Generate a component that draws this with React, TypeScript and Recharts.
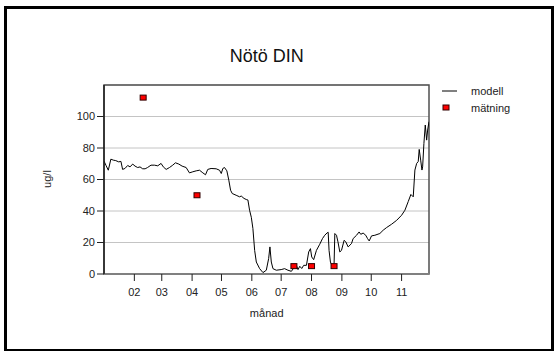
import React from 'react';
import { ComposedChart, Line, Scatter, XAxis, YAxis, CartesianGrid, Legend, ReferenceArea } from 'recharts';

// day of year (0 = 1 Jan) for the modelled series
const modelDays = [
  0, 2, 4.4, 7, 9.5, 12, 15, 17.3, 19, 21.4, 24.2, 26.6, 29.3, 31.7, 34.4, 36.8, 39.5, 42, 44.5, 48,
  51.5, 54.9, 58.3, 60.6, 63.5, 66.9, 70.2, 73, 76.4, 79.8, 83.9, 87.3, 90.7, 94.2, 97.6, 101, 103.7,
  106, 109.4, 114.6, 118, 119.8, 121.4, 123.1, 125.5, 127.5, 129.3, 131, 135, 138.5, 140.2, 143, 145.3,
  147, 148.7, 150.5, 152.1, 153.9, 155.6, 159, 162.4, 165.8, 168.2, 169.5, 170.9, 172.6, 176, 181, 184.5,
  187.9, 191.4, 194, 196.5, 198.2, 200, 202, 204, 206.8, 209.1, 210.9, 212.2, 214.2, 217, 220.4, 223.2,
  225.5, 227.9, 229, 229.9, 231.3, 233.4, 235, 235.8, 237.5, 239, 240.9, 242.6, 245.3, 247, 249.4, 252.8,
  254.5, 258, 260.6, 262.3, 264.7, 267.4, 269.2, 270.9, 273.3, 276.7, 281.8, 285.2, 288.7, 293.8, 299,
  304, 307.4, 310.8, 313.5, 315.9, 317.6, 319.4, 321, 322, 323.5, 324.8, 325.5, 326.8, 328.2, 329.6,
  330.6, 332,
];
const modelValues = [
  71.7, 69, 65.9, 72.9, 72.3, 72, 71.2, 71.5, 66.4, 67, 68.9, 68, 69.8, 68.5, 67.6, 68, 66.8, 66.8, 67.6, 69.1,
  69.1, 68.7, 70.2, 68, 66.4, 67.6, 69.1, 70.6, 69.8, 68.5, 67.6, 64.2, 64.9, 65.5, 65.9, 64.2, 63,
  66.4, 67, 66.8, 65.9, 63.8, 67, 67.6, 65.5, 59.6, 53.2, 51.1, 50, 49, 49.5, 48, 47.3,
  47, 40.5, 36, 28.9, 15, 7.6, 3.4, 0.9, 2.4, 9.8, 17.2, 7.6, 3.4, 2.4, 2.8, 3.4,
  2.4, 1.7, 4, 5.5, 2.8, 4.9, 3.5, 5.5, 5.5, 14, 16.1, 10.8, 9.1, 15, 18.9, 22.5,
  24.6, 26.1, 26.5, 15, 7.6, 4.5, 5.3, 25.7, 24.6, 20.4, 14, 15, 21.4, 20.4, 17.2, 19.3,
  22.5, 24.6, 26.7, 25.2, 26, 24.6, 22.5, 21, 24.2, 24.6, 25.7, 27.8, 29.5, 31.6, 34.1,
  37.3, 40.5, 46, 50.5, 49, 66, 70.2, 71.4, 79.1, 72.3, 66, 68, 82.9, 94.6, 85,
  91.4, 96.7,
];

// sampled measurements
const sampleDays = [40, 95, 194, 212, 235];
const sampleValues = [112, 50, 5, 5, 5];

const monthTicks = [31, 59, 90, 120, 151, 181, 212, 243, 273, 304];
const monthLabels = ['02', '03', '04', '05', '06', '07', '08', '09', '10', '11'];
const yTicks = [0, 20, 40, 60, 80, 100];
const seriesNames = ['modell', 'mätning'];

const X_MAX = 332;
const Y_MAX = 120;
const FONT = '"Liberation Sans", Arial, sans-serif';

const modelData = modelDays.map((day, i) => ({ day, modell: modelValues[i] }));
const sampleData = sampleDays.map((day, i) => ({ day, matning: sampleValues[i] }));

const SampleMark = (props: any) => (
  <rect
    x={props.cx - 3}
    y={props.cy - 2.5}
    width={6}
    height={5}
    fill="#ff0000"
    stroke="#300000"
    strokeWidth={1}
  />
);

const LegendBox = () => (
  <svg width={110} height={32} style={{ display: 'block', fontFamily: FONT }}>
    <line x1={4} y1={7} x2={19} y2={7} stroke="#000" strokeWidth={1} />
    <text x={33} y={11} fontSize={11} fill="#222">{seriesNames[0]}</text>
    <rect x={5} y={21} width={6} height={5} fill="#ff0000" stroke="#300000" strokeWidth={1} />
    <text x={33} y={27.5} fontSize={11} fill="#222">{seriesNames[1]}</text>
  </svg>
);

export default function App() {
  return (
    <div style={{ position: 'absolute', left: 0, top: 0, width: 555, height: 352, background: '#fff', fontFamily: FONT }}>
      {/* outer frame */}
      <div
        style={{
          position: 'absolute', left: 4, top: 6, width: 550, height: 345, boxSizing: 'border-box',
          borderLeft: '3px solid #000', borderTop: '3px solid #000', borderRight: '3px solid #000', borderBottom: '2px solid #000',
        }}
      />
      <div style={{ position: 'absolute', left: 166.7, top: 46.5, width: 200, textAlign: 'center', fontSize: 18, lineHeight: '18px', color: '#111' }}>
        Nötö DIN
      </div>
      <div style={{ position: 'absolute', left: 47, top: 179, transform: 'translate(-50%, -50%) rotate(-90deg)', fontSize: 11, lineHeight: '11px', color: '#222', whiteSpace: 'nowrap' }}>
        ug/l
      </div>
      <div style={{ position: 'absolute', left: 266.7, top: 313, transform: 'translate(-50%, -50%)', fontSize: 11, lineHeight: '11px', color: '#222', whiteSpace: 'nowrap' }}>
        månad
      </div>
      <div style={{ position: 'absolute', left: 0, top: 0 }}>
        <ComposedChart width={555} height={352} data={modelData} margin={{ top: 85, right: 126, bottom: 38, left: 44 }}>
          <CartesianGrid vertical={false} stroke="#c4c4c4" strokeWidth={1} />
          {/* plot frame */}
          <ReferenceArea x1={0} x2={X_MAX} y1={0} y2={Y_MAX} fill="none" stroke="#505050" strokeWidth={1.5} ifOverflow="visible" />
          <XAxis
            dataKey="day"
            type="number"
            domain={[0, X_MAX]}
            ticks={monthTicks}
            tickFormatter={(v: number) => monthLabels[monthTicks.indexOf(v)]}
            height={40}
            tickSize={7}
            tickMargin={7}
            axisLine={{ stroke: '#808080', strokeWidth: 2 }}
            tickLine={{ stroke: '#202020' }}
            tick={{ fontSize: 11, fill: '#222', fontFamily: FONT }}
            allowDataOverflow
          />
          <YAxis
            type="number"
            domain={[0, Y_MAX]}
            ticks={yTicks}
            width={60}
            tickSize={7}
            tickMargin={2}
            axisLine={{ stroke: '#202020', strokeWidth: 1.5 }}
            tickLine={{ stroke: '#202020' }}
            tick={{ fontSize: 11, fill: '#222', fontFamily: FONT }}
          />
          <Legend
            layout="vertical"
            align="center"
            verticalAlign="middle"
            wrapperStyle={{ left: 438, top: 84, width: 110, height: 32 }}
            content={() => <LegendBox />}
          />
          <Line
            type="linear"
            dataKey="modell"
            stroke="#000"
            strokeWidth={1}
            dot={false}
            activeDot={false}
            isAnimationActive={false}
          />
          <Scatter data={sampleData} dataKey="matning" shape={<SampleMark />} isAnimationActive={false} />
        </ComposedChart>
      </div>
    </div>
  );
}
